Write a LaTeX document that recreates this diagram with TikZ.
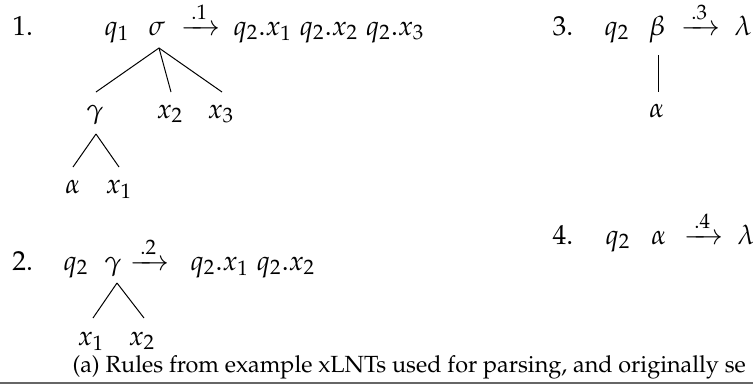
\documentclass[tikz,border=0pt]{standalone}
\usepackage[T1]{fontenc}
\usepackage{amsmath}
\usepackage{mathpazo}
\renewcommand{\rmdefault}{ppl}
\usetikzlibrary{calc}
\newcommand{\weighted}[1]{\xrightarrow{\,#1\,}}
\begin{document}
\begin{tikzpicture}[x=0.4pt,y=-0.4pt,
  every node/.style={inner sep=0pt, font=\fontsize{11}{13}\selectfont},
  lbl/.style={anchor=base west},
  sym/.style={anchor=base},
  branch/.style={line width=0.4pt, black},
  caption/.style={anchor=base west, font=\fontsize{9.35}{11}\selectfont},
  baserule/.style={line width=0.9pt, black!60}]
\useasboundingbox (0,0) rectangle (753,387);
% ---- rule 1
\node[lbl] (n1) at (12,35) {1.};
\node[lbl] (q1) at (104,35) {$q_1$};
\node[sym] (s1) at (157,35) {$\sigma$};
\node[sym] (a1) at (201,35) {$\weighted{.1}$};
\node[lbl] (r1) at (233,35) {$q_2.x_1\;q_2.x_2\;q_2.x_3$};
\node[sym] (g1) at (95,118) {$\gamma$};
\node[sym] (x12) at (170,118) {$x_2$};
\node[sym] (x13) at (221,118) {$x_3$};
\node[sym] (al1) at (73,193) {$\alpha$};
\node[sym] (x11) at (119,193) {$x_1$};
\draw[branch] ($(s1.base)+(2,13)$) -- ($(g1.base)+(1,-26)$);
\draw[branch] ($(s1.base)+(2,13)$) -- ($(x12.base)+(1,-26)$);
\draw[branch] ($(s1.base)+(2,13)$) -- ($(x13.base)+(1,-26)$);
\draw[branch] ($(g1.base)+(1,16)$) -- ($(al1.base)+(0,-26)$);
\draw[branch] ($(g1.base)+(1,16)$) -- ($(x11.base)+(0,-26)$);
% ---- rule 2
\node[lbl] (n2) at (12,270) {2.};
\node[lbl] (q2b) at (63,270) {$q_2$};
\node[sym] (g2) at (113,270) {$\gamma$};
\node[sym] (a2) at (150,270) {$\weighted{.2}$};
\node[lbl] (r2) at (190,270) {$q_2.x_1\;q_2.x_2$};
\node[sym] (x21) at (91,345) {$x_1$};
\node[sym] (x22) at (142,345) {$x_2$};
\draw[branch] ($(g2.base)+(4,13)$) -- ($(x21.base)+(2,-27)$);
\draw[branch] ($(g2.base)+(4,13)$) -- ($(x22.base)+(2,-27)$);
% ---- rule 3
\node[lbl] (n3) at (552,35) {3.};
\node[lbl] (q3) at (604,35) {$q_2$};
\node[sym] (b3) at (657,35) {$\beta$};
\node[sym] (a3) at (701,35) {$\weighted{.3}$};
\node[lbl] (l3) at (734,35) {$\lambda$};
\node[sym] (al3) at (657,117) {$\alpha$};
\draw[branch] ($(b3.base)+(1,20)$) -- ($(al3.base)+(1,-25)$);
% ---- rule 4
\node[lbl] (n4) at (552,244) {4.};
\node[lbl] (q4) at (605,244) {$q_2$};
\node[sym] (al4) at (659,244) {$\alpha$};
\node[sym] (a4) at (704,244) {$\weighted{.4}$};
\node[lbl] (l4) at (737,244) {$\lambda$};
% ---- caption
\node[caption] (cap) at (72,372) {(a) Rules from example xLNTs used for parsing, and originally se};
\draw[baserule] (0,383) -- (753,383);
\end{tikzpicture}
\end{document}
